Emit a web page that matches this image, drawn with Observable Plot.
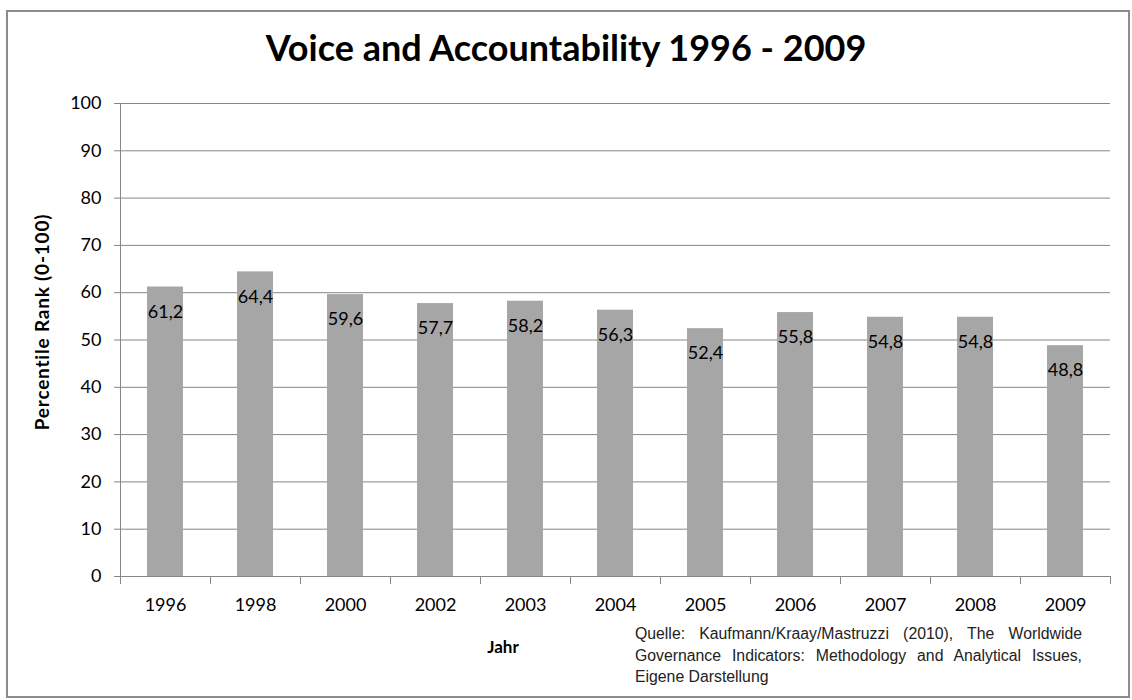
<!DOCTYPE html>
<html>
<head>
<meta charset="utf-8">
<script src="https://cdn.jsdelivr.net/npm/d3@7"></script>
<script src="https://cdn.jsdelivr.net/npm/@observablehq/plot@0.6"></script>
<style>
  html, body { margin: 0; padding: 0; background: #fff; }
  #wrap { position: relative; width: 1132px; height: 700px; overflow: hidden; font-family: Lato, "Open Sans", sans-serif; }
  #border { position: absolute; left: 6px; top: 10px; width: 1120px; height: 684px; border: 2px solid #8c8c8c; }
  #title { position: absolute; left: 0; width: 1132px; top: 25px; text-align: center; font-weight: bold; font-size: 36px; color: #000; }
  #xlabel { position: absolute; left: 473px; top: 636px; width: 60px; text-align: center; font-weight: bold; font-size: 17px; color: #000; }
  #ylabel { position: absolute; left: 41px; top: 322px; width: 0; height: 0; }
  #ylabel span { position: absolute; transform: translate(-50%, -50%) rotate(-90deg); white-space: nowrap; font-weight: bold; font-size: 19px; letter-spacing: 0.8px; color: #000; }
  #caption { position: absolute; left: 635px; top: 623px; width: 447px; font-family: "Liberation Sans", Arial, sans-serif; font-size: 15.8px; line-height: 21.5px; color: #222; }
  #caption .j { text-align: justify; text-align-last: justify; white-space: nowrap; }
  #chart { position: absolute; left: 0; top: 0; }
</style>
</head>
<body>
<div id="wrap">
  <div id="chart"></div>
  <div id="border"></div>
  <div id="title">Voice and Accountability 1996 - 2009</div>
  <div id="ylabel"><span>Percentile Rank (0-100)</span></div>
  <div id="xlabel">Jahr</div>
  <div id="caption">
    <div class="j">Quelle: Kaufmann/Kraay/Mastruzzi (2010), The Worldwide</div>
    <div class="j">Governance Indicators: Methodology and Analytical Issues,</div>
    <div>Eigene Darstellung</div>
  </div>
</div>
<script>
const years = ["1996", "1998", "2000", "2002", "2003", "2004", "2005", "2006", "2007", "2008", "2009"];
const values = [61.2, 64.4, 59.6, 57.7, 58.2, 56.3, 52.4, 55.8, 54.8, 54.8, 48.8];
const yTicks = [0, 10, 20, 30, 40, 50, 60, 70, 80, 90, 100];

const data = years.map((year, i) => ({ year, i, value: values[i] }));
const fmt = v => v.toFixed(1).replace(".", ",");

const chart = Plot.plot({
  width: 1132,
  height: 700,
  marginTop: 103,
  marginBottom: 124,
  marginLeft: 120,
  marginRight: 22,
  style: { fontFamily: "Lato, 'Open Sans', sans-serif", fontSize: "18px", color: "#000", background: "transparent" },
  x: { domain: [0, years.length], axis: null },
  y: { domain: [0, 100], axis: null },
  marks: [
    Plot.gridY(yTicks, { stroke: "#868686", strokeOpacity: 1 }),
    Plot.rectY(data, { x1: d => d.i + 0.3, x2: d => d.i + 0.7, y: "value", fill: "#a6a6a6" }),
    Plot.text(data, { x: d => d.i + 0.5, y: "value", text: d => fmt(d.value), dy: 25, fill: "#000", fontSize: 18 }),
    Plot.axisY(yTicks, { tickSize: 6, tickPadding: 13, stroke: "#868686", fill: "#000", fontSize: 18, label: null }),
    Plot.axisX(d3.range(years.length + 1), { tickSize: 8, stroke: "#868686", tickFormat: () => "", label: null }),
    Plot.axisX(d3.range(years.length).map(i => i + 0.5), { tickSize: 0, tickPadding: 22, fill: "#000", fontSize: 18,
      tickFormat: v => years[Math.floor(v)], label: null }),
    Plot.ruleY([0], { stroke: "#868686" }),
    Plot.ruleX([0], { stroke: "#868686" })
  ]
});
document.getElementById("chart").appendChild(chart);
</script>
</body>
</html>
